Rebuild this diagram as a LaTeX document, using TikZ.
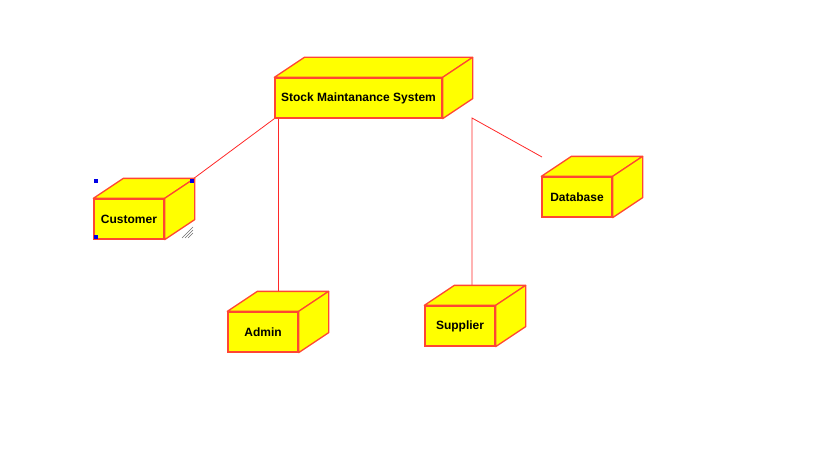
\documentclass[tikz,border=0pt]{standalone}
\usepackage{fontspec}
\setmainfont{Liberation Sans}
\definecolor{yel}{RGB}{255,255,0}
\definecolor{edge}{RGB}{255,70,50}
\definecolor{conn}{RGB}{255,40,40}
\definecolor{handle}{RGB}{0,0,230}
\definecolor{grip}{RGB}{110,110,110}
\tikzset{
  box/.style={draw=edge, fill=yel, line width=1.3pt, font=\bfseries\fontsize{12}{14}\selectfont,
    inner sep=0pt, minimum width=70pt, minimum height=40pt, text=black},
  face/.style={draw=edge, fill=yel, line width=1.3pt, line join=round},
  link/.style={draw=conn, line width=0.8pt},
  handlebox/.style={fill=handle, minimum size=4pt, inner sep=0pt},
  griplines/.style={draw=grip, line width=0.6pt}
}
\newcommand{\cubeface}[1]{%
  \draw[face] (#1.north west) -- ++(30pt,20pt) -- ([shift={(30pt,20pt)}]#1.north east) -- (#1.north east) -- cycle;
  \draw[face] (#1.north east) -- ([shift={(30pt,20pt)}]#1.north east) -- ([shift={(30pt,20pt)}]#1.south east) -- (#1.south east) -- cycle;
}
\begin{document}
\begin{tikzpicture}[x=1pt,y=-1pt]
\useasboundingbox (0,0) rectangle (819,460);
% nodes (front faces)
\node[box, minimum width=167pt] (main) at (358.5,98) {Stock Maintanance System};
\node[box] (cust) at (129,219) {Customer};
\node[box] (admin) at (263,332) {Admin};
\node[box] (supp) at (460,326) {Supplier};
\node[box] (db) at (577,197) {Database};
% connector coordinates
\coordinate (custC) at (193,179);
\coordinate (mainA) at (278,118);
\coordinate (adminT) at (278,292);
\coordinate (mainS) at (472,118);
\coordinate (suppT) at (472,286);
\coordinate (dbEnd) at (542,157);
% connectors
\draw[link] (custC) -- (main.south west);
\draw[link] (mainA) -- (adminT);
\draw[link] (suppT) -- (mainS) -- (dbEnd);
% 3D faces
\cubeface{main}
\cubeface{cust}
\cubeface{admin}
\cubeface{supp}
\cubeface{db}
% redraw front faces on top
\node[box, minimum width=167pt] at (main) {Stock Maintanance System};
\node[box] at (cust) {Customer};
\node[box] at (admin) {Admin};
\node[box] at (supp) {Supplier};
\node[box] at (db) {Database};
% selection handles
\node[handlebox] (h1) at (96,181) {};
\node[handlebox] (h2) at (192,181) {};
\node[handlebox] (h3) at (96,237) {};
% resize grip
\draw[griplines] (182,238) -- (193,227);
\draw[griplines] (185,238) -- (193,230);
\draw[griplines] (188,238) -- (193,233);
\end{tikzpicture}
\end{document}
